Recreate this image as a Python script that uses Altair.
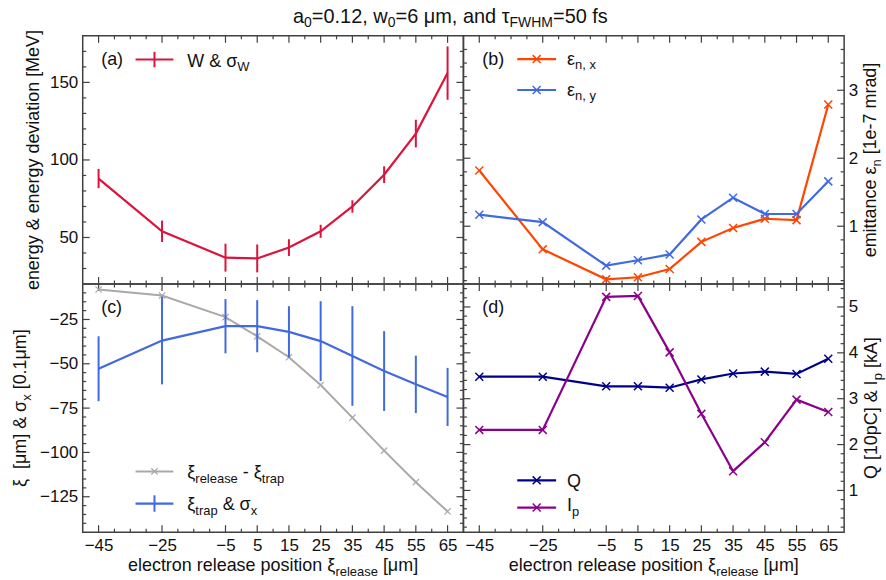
import altair as alt
import pandas as pd
import numpy as np

# ---------------- data ----------------
xi_release = [-45, -25, -5, 5, 15, 25, 35, 45, 55, 65]
energy = [88, 54, 37, 36.5, 43.5, 54, 70, 90.5, 117, 156]
energy_dev = [6.2, 6.9, 9.0, 9.0, 5.4, 4.2, 4.0, 5.4, 8.9, 17.2]
emit_x = [1.82, 0.66, 0.22, 0.25, 0.37, 0.77, 0.975, 1.11, 1.09, 2.79]
emit_y = [1.17, 1.06, 0.42, 0.50, 0.585, 1.10, 1.42, 1.18, 1.18, 1.66]
xi_diff = [-8.1, -11.5, -23.7, -34.5, -46.3, -62, -80.4, -99, -116.8, -133.3]
xi_trap = [-52.8, -36.9, -28.8, -28.8, -32, -37.2, -45.6, -54.1, -61.6, -68.7]
sigma_x = [18.3, 24.7, 15.3, 14.7, 14.5, 22.5, 28.1, 22.5, 16.2, 16.4]
charge = [3.48, 3.48, 3.27, 3.27, 3.24, 3.42, 3.55, 3.59, 3.54, 3.87]
current = [2.32, 2.32, 5.22, 5.24, 4.01, 2.67, 1.42, 2.05, 2.98, 2.71]

# tick values
x_major = [-45, -25, -5, 5, 15, 25, 35, 45, 55, 65]
x_minor = [v for v in range(-40, 70, 5) if v not in x_major]
a_major = [50, 100, 150]
a_minor = [30, 40, 60, 70, 80, 90, 110, 120, 130, 140, 160, 170]
b_major = [1, 2, 3]
b_minor = [round(v, 1) for v in np.arange(0.2, 3.7, 0.2) if abs(v - round(v)) > 1e-6]
c_major = [-25, -50, -75, -100, -125]
c_minor = [v for v in range(-140, -5, 5) if v % 25 != 0]
d_major = [1, 2, 3, 4, 5]
d_minor = [round(v, 1) for v in np.arange(0.2, 5.5, 0.2) if abs(v - round(v)) > 1e-6]

# ---------------- style ----------------
FONT = "Liberation Sans"
TEXT = "#111111"
FRAME = "#404040"
RED = "#dc143c"
ORANGE = "#ff4500"
BLUE = "#4169e1"
GRAY = "#a9a9a9"
NAVY = "#00008b"
PURPLE = "#8b008b"
PW, PH = 382, 249
XMARK = "M-1,-1L1,1M-1,1L1,-1"
LBL = 17

ONE = pd.DataFrame({"k": [0]})

AW = {' ': 278, '\u00a0': 278, '(': 333, ')': 333, '[': 278, ']': 278, '&': 667,
      ',': 278, '.': 278, '-': 333, '=': 584,
      'a': 556, 'b': 556, 'c': 500, 'd': 556, 'e': 556, 'f': 278, 'g': 556, 'h': 556,
      'i': 222, 'j': 222, 'k': 500, 'l': 222, 'm': 833, 'n': 556, 'o': 556, 'p': 556,
      'q': 556, 'r': 333, 's': 500, 't': 278, 'u': 556, 'v': 500, 'w': 722, 'x': 500,
      'y': 500, 'z': 500, 'A': 667, 'C': 722, 'F': 611, 'H': 722, 'I': 278, 'M': 833,
      'Q': 778, 'V': 667, 'W': 944,
      'ε': 446, 'ξ': 446, 'σ': 617, 'τ': 395, 'μ': 576}
for ch in "0123456789":
    AW[ch] = 556


def tw(s, fs):
    return sum(AW.get(c, 556) for c in s) * fs / 1000.0


def txt(s, x, y, fs, color=TEXT, angle=None):
    kw = dict(text=s, align="left", baseline="alphabetic", fontSize=fs, color=color, font=FONT)
    if angle is not None:
        kw["angle"] = angle
    return alt.Chart(ONE).mark_text(**kw).encode(x=alt.value(x), y=alt.value(y))


def rich(parts, x0, y0, fs, sfs, shift, rotate=False, center=False, color=TEXT):
    widths = [tw(t, sfs if s else fs) for t, s in parts]
    total = sum(widths)
    if rotate:
        start = y0 + total / 2 if center else y0
    else:
        start = x0 - total / 2 if center else x0
    out, cum = [], 0.0
    for (t, s), w in zip(parts, widths):
        size = sfs if s else fs
        t2 = t.lstrip(" ")
        off = cum + (len(t) - len(t2)) * 278 * size / 1000.0
        if rotate:
            out.append(txt(t2, x0 + (shift if s else 0), start - off, size, color, angle=270))
        else:
            out.append(txt(t2, start + off, y0 + (shift if s else 0), size, color))
        cum += w
    return out


def hline(x1, x2, y, color, sw=2.2):
    return alt.Chart(ONE).mark_rule(color=color, strokeWidth=sw).encode(
        x=alt.value(x1), x2=alt.value(x2), y=alt.value(y))


def vline(x, y1, y2, color, sw=2.0):
    return alt.Chart(ONE).mark_rule(color=color, strokeWidth=sw).encode(
        x=alt.value(x), y=alt.value(y1), y2=alt.value(y2))


def xmark(x, y, color, size=64, sw=1.5):
    return alt.Chart(ONE).mark_point(shape=XMARK, filled=False, size=size, strokeWidth=sw,
                                     color=color, opacity=1).encode(x=alt.value(x), y=alt.value(y))


XSC = alt.Scale(domain=[-50, 70], nice=False, zero=False)


def xenc(field, show):
    if show:
        ax = alt.Axis(values=x_major, labelFontSize=LBL, labelPadding=5, ticks=False, domain=False,
                      grid=False, labelFlush=False, labelOverlap=False, title=None,
                      labelColor=TEXT, labelFont=FONT)
    else:
        ax = None
    return alt.X(field, type="quantitative", scale=XSC, axis=ax)


def make_yenc(domain, values, orient, pad):
    sc = alt.Scale(domain=domain, nice=False, zero=False)
    ax = alt.Axis(values=values, orient=orient, labelFontSize=LBL, labelPadding=pad, ticks=False,
                  domain=False, grid=False, labelFlush=False, labelOverlap=False, title=None,
                  labelColor=TEXT, labelFont=FONT)
    return lambda field: alt.Y(field, type="quantitative", scale=sc, axis=ax)


def tick_layers(xshow, yenc, ymaj, ymin):
    out = []
    for vals, ln in ((x_major, 7), (x_minor, 3.5)):
        df = pd.DataFrame({"t": vals})
        base = alt.Chart(df).mark_rule(color=FRAME, strokeWidth=1.2)
        out.append(base.encode(x=xenc("t", xshow), y=alt.value(0), y2=alt.value(ln)))
        out.append(base.encode(x=xenc("t", xshow), y=alt.value(PH), y2=alt.value(PH - ln)))
    for vals, ln in ((ymaj, 7), (ymin, 3.5)):
        df = pd.DataFrame({"t": vals})
        base = alt.Chart(df).mark_rule(color=FRAME, strokeWidth=1.2)
        out.append(base.encode(y=yenc("t"), x=alt.value(0), x2=alt.value(ln)))
        out.append(base.encode(y=yenc("t"), x=alt.value(PW), x2=alt.value(PW - ln)))
    return out


def anchor(x, y):
    return alt.Chart(ONE).mark_rule(opacity=0, strokeWidth=0.01).encode(
        x=alt.value(x), x2=alt.value(x), y=alt.value(y), y2=alt.value(y))


FS, SFS, SH = 18, 13, 4.5

# ---------------- panel (a) ----------------
ya = make_yenc([20, 180], a_major, "left", 5)
dfa = pd.DataFrame({"x": xi_release, "W": energy,
                    "lo": np.array(energy) - np.array(energy_dev),
                    "hi": np.array(energy) + np.array(energy_dev)})
la = tick_layers(False, ya, a_major, a_minor)
la += [
    alt.Chart(dfa).mark_line(color=RED, strokeWidth=2.2).encode(x=xenc("x", False), y=ya("W")),
    alt.Chart(dfa).mark_rule(color=RED, strokeWidth=2).encode(x=xenc("x", False), y=ya("lo"), y2="hi:Q"),
    txt("(a)", 18.5, 29.5, FS),
    hline(53, 91, 23.7, RED), vline(72, 16, 31.5, RED),
]
la += rich([("W & σ", False), ("W", True)], 105, 31, FS, SFS, SH)
la += rich([("energy & energy deviation [MeV]", False)], -43.5, PH / 2, FS, SFS, SH, rotate=True, center=True)
la += rich([("a", False), ("0", True), ("=0.12, w", False), ("0", True), ("=6 μm, and τ", False),
            ("FWHM", True), ("=50 fs", False)], 211, -13, 20, 14, 4.5)
la += [anchor(-82, -34)]
pa = alt.layer(*la).properties(width=PW, height=PH)

# ---------------- panel (b) ----------------
yb = make_yenc([0.15, 3.8], b_major, "right", 4)
dfb = pd.DataFrame({"x": xi_release, "ex": emit_x, "ey": emit_y})
lb = tick_layers(False, yb, b_major, b_minor)
for fld, col in (("ex", ORANGE), ("ey", BLUE)):
    lb.append(alt.Chart(dfb).mark_line(color=col, strokeWidth=2.2).encode(x=xenc("x", False), y=yb(fld)))
    lb.append(alt.Chart(dfb).mark_point(shape=XMARK, filled=False, size=64, strokeWidth=1.5, color=col,
                                        opacity=1).encode(x=xenc("x", False), y=yb(fld)))
lb += [txt("(b)", 19, 29.5, FS),
       hline(54, 93, 23.3, ORANGE), xmark(73.5, 23.3, ORANGE),
       hline(54, 93, 54.3, BLUE), xmark(73.5, 54.3, BLUE)]
lb += rich([("ε", False), ("n, x", True)], 104, 29, FS, SFS, SH)
lb += rich([("ε", False), ("n, y", True)], 104, 60, FS, SFS, SH)
lb += rich([("emittance ε", False), ("n", True), (" [1e-7 mrad]", False)], 414, PH / 2, FS, SFS, SH,
           rotate=True, center=True)
pb = alt.layer(*lb).properties(width=PW, height=PH)

# ---------------- panel (c) ----------------
yc = make_yenc([-145, -5], c_major, "left", 5)
dfc = pd.DataFrame({"x": xi_release, "d": xi_diff, "t": xi_trap,
                    "lo": np.array(xi_trap) - np.array(sigma_x),
                    "hi": np.array(xi_trap) + np.array(sigma_x)})
lc = tick_layers(True, yc, c_major, c_minor)
lc += [
    alt.Chart(dfc).mark_line(color=GRAY, strokeWidth=2).encode(x=xenc("x", True), y=yc("d")),
    alt.Chart(dfc).mark_point(shape=XMARK, filled=False, size=40, strokeWidth=1.2, color=GRAY,
                              opacity=1).encode(x=xenc("x", True), y=yc("d")),
    alt.Chart(dfc).mark_line(color=BLUE, strokeWidth=2.2).encode(x=xenc("x", True), y=yc("t")),
    alt.Chart(dfc).mark_rule(color=BLUE, strokeWidth=2).encode(x=xenc("x", True), y=yc("lo"), y2="hi:Q"),
    txt("(c)", 18.5, 29, FS),
    hline(53, 91, 188, GRAY, 2), xmark(72, 188, GRAY, 40, 1.2),
    hline(53, 91, 220.3, BLUE), vline(72, 212, 228.5, BLUE),
]
lc += rich([("ξ", False), ("release", True), (" - ξ", False), ("trap", True)], 105, 195, FS, SFS, SH)
lc += rich([("ξ", False), ("trap", True), (" & σ", False), ("x", True)], 105, 227, FS, SFS, SH)
lc += rich([("ξ\u00a0 [μm] & σ", False), ("x", True), (" [0.1μm]", False)], -56.5, PH / 2, FS, SFS, SH,
           rotate=True, center=True)
lc += rich([("electron release position ξ", False), ("release", True), (" [μm]", False)],
           PW / 2, PH + 39, FS, SFS, SH, center=True)
pc = alt.layer(*lc).properties(width=PW, height=PH)

# ---------------- panel (d) ----------------
yd = make_yenc([0.09, 5.5], d_major, "right", 4)
dfd = pd.DataFrame({"x": xi_release, "Q": charge, "I": current})
ld = tick_layers(True, yd, d_major, d_minor)
for fld, col in (("Q", NAVY), ("I", PURPLE)):
    ld.append(alt.Chart(dfd).mark_line(color=col, strokeWidth=2.2).encode(x=xenc("x", True), y=yd(fld)))
    ld.append(alt.Chart(dfd).mark_point(shape=XMARK, filled=False, size=64, strokeWidth=1.5, color=col,
                                        opacity=1).encode(x=xenc("x", True), y=yd(fld)))
ld += [txt("(d)", 19, 29, FS),
       hline(54, 93, 197, NAVY), xmark(73.5, 197, NAVY),
       hline(54, 93, 224.3, PURPLE), xmark(73.5, 224.3, PURPLE),
       txt("Q", 104, 203.5, FS)]
ld += rich([("I", False), ("p", True)], 104, 228, FS, SFS, SH)
ld += rich([("Q [10pC] & I", False), ("p", True), (" [kA]", False)], 415, PH / 2, FS, SFS, SH,
           rotate=True, center=True)
ld += rich([("electron release position ξ", False), ("release", True), (" [μm]", False)],
           PW / 2, PH + 39, FS, SFS, SH, center=True)
ld += [anchor(422, 297)]
pdd = alt.layer(*ld).properties(width=PW, height=PH)

chart = alt.concat(pa, pb, pc, pdd, columns=2, spacing=0, bounds="flush").properties(
    padding=0
).configure(font=FONT).configure_view(stroke=FRAME, strokeWidth=1.5)

chart.save("out.html", embed_options={"renderer": "svg", "actions": False})
